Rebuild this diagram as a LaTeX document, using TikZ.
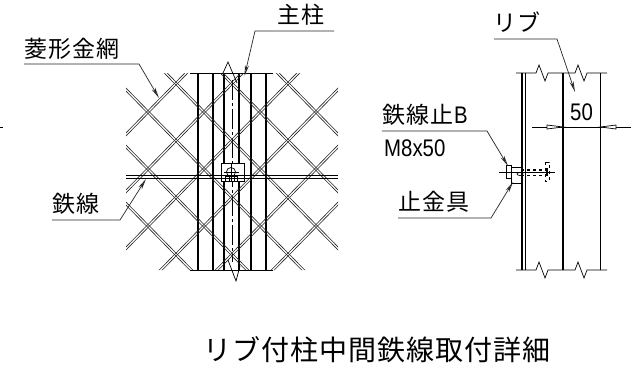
\documentclass[tikz,border=0pt]{standalone}
\usepackage{fontspec}
\setmainfont{Liberation Sans}
\newfontfamily\cjk[LetterSpace=4.3]{Noto Sans CJK JP}
\newfontfamily\cjkt[LetterSpace=3.6]{Noto Sans CJK JP}
\usetikzlibrary{calc,arrows.meta}
\newcommand{\narrow}[1]{\scalebox{0.85}[1]{\fontsize{24}{24}\selectfont #1}}
\tikzset{
 x=1pt,y=-1pt,
 lab/.style={font=\cjk\fontsize{23}{23}\selectfont,inner sep=0,anchor=base west},
 ttl/.style={font=\cjkt\fontsize{28}{28}\selectfont,inner sep=0,anchor=base west},
 num/.style={font=\fontsize{24}{24}\selectfont,inner sep=0,anchor=base west},
 wire/.style={line width=0.6pt,black!85},
 col/.style={line width=1.4pt,black},
 thinl/.style={line width=0.7pt,black},
 lead/.style={line width=0.7pt,black!85,-{Stealth[open,length=11pt,width=4pt]}},
}
\begin{document}
\begin{tikzpicture}
\useasboundingbox (0,0) rectangle (636,364);
\fill[white] (0,0) rectangle (636,364);
\draw[thinl] (0,127) -- (3,127);
% columns
\draw[thinl] (190,73) -- (273,73) (190,270) -- (273,270);
\foreach \x in {198,213,224,239,251,266} \draw[col] (\x,73) -- (\x,270);
\draw[thinl,dash pattern=on 20pt off 3pt on 3pt off 3pt] (232,80) -- (232,262);
% spikes
\draw[thinl] (223,73) -- (228,62) -- (237,83) (228,260) -- (236,281) -- (240,266);
% mesh
\begin{scope}
\clip (137,73) -- (327,73) -- (338,84) -- (338,255) -- (323,270) -- (143,270) -- (126,253) -- (126,84) -- cycle;
\foreach \s in {-6,...,8}{
 \draw[wire] (148+\s*56-1.5,112) ++(-300,-305.4) -- ++(600,610.8);
 \draw[wire] (148+\s*56+1.5,112) ++(-300,-305.4) -- ++(600,610.8);
 \draw[wire] (148+\s*56-1.5,112) ++(-300,305.4) -- ++(600,-610.8);
 \draw[wire] (148+\s*56+1.5,112) ++(-300,305.4) -- ++(600,-610.8);
}
\end{scope}
% clip bracket
\draw[thinl,fill=white] (221,163) rectangle (244,181);
% wire
\draw[line width=0.9pt] (126,175) -- (338,175) (126,178) -- (338,178);
\draw[thinl] (231,172) circle (4.5);
\draw[line width=1pt] (225,182) -- (225,176) -- (237,176) -- (237,182) (229,182) -- (229,176) (234,182) -- (234,176);
\draw[thinl] (224,172) -- (239,172) (231,164) -- (231,181);
% side view
\draw[col] (522,73) -- (522,270);
\draw[col] (525.5,73) -- (525.5,270);
\draw[col] (563,73) -- (563,270);
\draw[col] (600.5,73) -- (600.5,270);
\foreach \y in {73,270}{
 \draw[thinl] (516,\y) -- (536,\y) -- (539,\y-8) -- (545,\y+8) -- (548,\y) -- (575,\y) -- (578,\y-8) -- (584,\y+8) -- (587,\y) -- (607,\y);
}
% dim
\draw[thinl] (532,127) -- (631,127);
\draw[thinl,fill=white] (563,127) -- (547,125) -- (547,129) -- cycle;
\draw[thinl,fill=white] (600.5,127) -- (616,125) -- (616,129) -- cycle;
\node[num] (d50) at (570,120) {\narrow{50}};
% fastener
\draw[line width=1pt] (506,165) rectangle (511,178);
\draw[thinl] (511,167) rectangle (521,183);
\draw[thinl] (520,174) ellipse (3 and 1.5);
\draw[thinl] (499,172) -- (555,172);
\draw[thinl,dashed] (521,169) -- (547,169) (521,175) -- (547,175) (521,170.5) -- (547,170.5);
\draw[thinl,dashed] (545,162) rectangle (549,181);
\draw[col] (547,168) -- (547,176);
% texts
\node[lab] (t1) at (277,23) {主柱};
\node[lab] (t2) at (24,57) {菱形金網};
\node[lab] (t3) at (52,212) {鉄線};
\node[lab] (t4) at (493,31) {リブ};
\node[lab] (t5) at (382,123) {鉄線止\kern1pt{\fontspec{Liberation Sans}\narrow{B}}};
\node[num] (t6) at (384,156) {\narrow{M8x50}};
\node[lab] (t7) at (398,210) {止金具};
\node[ttl] (t8) at (203,360) {リブ付柱中間鉄線取付詳細};
% leaders
\draw[lead] (334,31) -- (255,31) -- (244.5,76);
\draw[lead] (24,64) -- (139,64) -- (159,98);
\draw[lead] (52,220) -- (120,220) -- (146,179);
\draw[lead] (494,39) -- (557,39) -- (575,92);
\draw[lead] (382,131) -- (487,131) -- (508,166);
\draw[lead] (398,218) -- (491,218) -- (513,182);
\end{tikzpicture}
\end{document}
